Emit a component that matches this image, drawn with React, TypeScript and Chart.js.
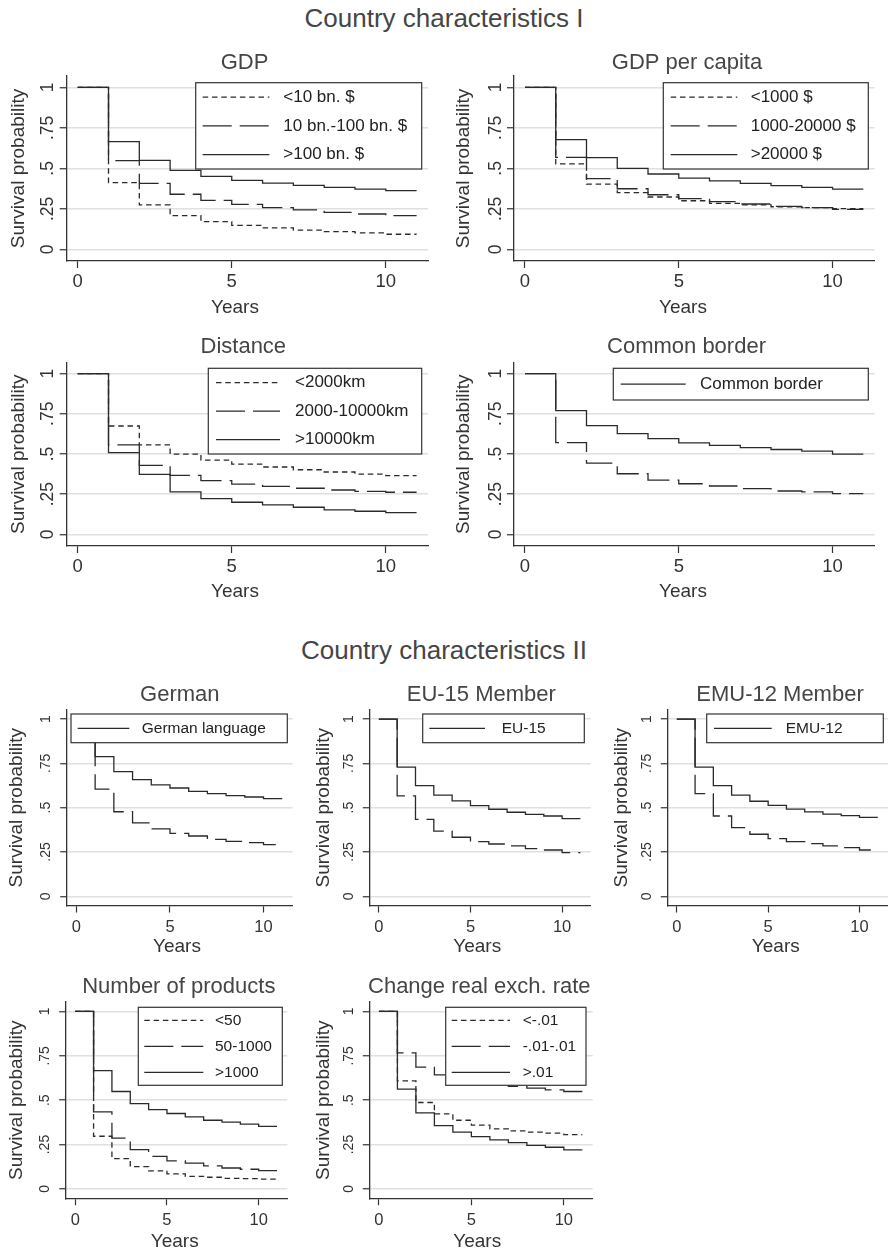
import React, { useEffect, useRef } from "react";
import { Chart, registerables } from "chart.js";

Chart.register(...registerables);

const FONT = '"Liberation Sans", Arial, Helvetica, sans-serif';
Chart.defaults.font.family = FONT;

// ---------- data ----------
const YEARS = [0, 1, 2, 3, 4, 5, 6, 7, 8, 9, 10, 11];
const X_TICKS = [0, 5, 10];
const Y_TICKS = [0, 0.25, 0.5, 0.75, 1];
const Y_TICK_LABELS = ["0", ".25", ".5", ".75", "1"];

// GDP
const GDP_LABELS = ["<10 bn. $", "10 bn.-100 bn. $", ">100 bn. $"];
const GDP_LOW = [1, 0.412, 0.274, 0.208, 0.171, 0.148, 0.132, 0.119, 0.109, 0.101, 0.093, 0.093];
const GDP_MID = [1, 0.547, 0.407, 0.34, 0.302, 0.278, 0.257, 0.243, 0.228, 0.218, 0.208, 0.208];
const GDP_HIGH = [1, 0.665, 0.549, 0.488, 0.451, 0.426, 0.409, 0.395, 0.383, 0.372, 0.362, 0.362];

// GDP per capita
const GDPPC_LABELS = ["<1000 $", "1000-20000 $", ">20000 $"];
const GDPPC_LOW = [1, 0.527, 0.403, 0.35, 0.323, 0.3, 0.284, 0.274, 0.263, 0.257, 0.251, 0.251];
const GDPPC_MID = [1, 0.568, 0.436, 0.374, 0.337, 0.313, 0.294, 0.28, 0.265, 0.257, 0.247, 0.247];
const GDPPC_HIGH = [1, 0.677, 0.566, 0.5, 0.465, 0.44, 0.422, 0.407, 0.393, 0.383, 0.372, 0.372];

// Distance
const DIST_LABELS = ["<2000km", "2000-10000km", ">10000km"];
const DIST_NEAR = [1, 0.674, 0.557, 0.499, 0.462, 0.437, 0.419, 0.402, 0.388, 0.375, 0.365, 0.365];
const DIST_MID = [1, 0.557, 0.429, 0.367, 0.334, 0.313, 0.299, 0.287, 0.276, 0.268, 0.262, 0.262];
const DIST_FAR = [1, 0.509, 0.373, 0.264, 0.223, 0.2, 0.184, 0.169, 0.153, 0.144, 0.136, 0.136];

// Common border
const BORDER_LABELS = ["Common border", "No common border"];
const BORDER_YES = [1, 0.769, 0.676, 0.627, 0.596, 0.569, 0.553, 0.54, 0.528, 0.518, 0.499, 0.499];
const BORDER_NO = [1, 0.571, 0.443, 0.377, 0.338, 0.315, 0.301, 0.285, 0.27, 0.264, 0.254, 0.254];

// German
const GERMAN_LABELS = ["German language", "Other language"];
const GERMAN_YES = [1, 0.788, 0.703, 0.658, 0.628, 0.611, 0.592, 0.579, 0.568, 0.56, 0.551, 0.551];
const GERMAN_NO = [1, 0.605, 0.477, 0.414, 0.38, 0.355, 0.34, 0.321, 0.31, 0.303, 0.291, 0.291];

// EU-15
const EU_LABELS = ["EU-15", "Non EU-15"];
const EU_YES = [1, 0.729, 0.624, 0.571, 0.538, 0.511, 0.491, 0.474, 0.462, 0.453, 0.438, 0.438];
const EU_NO = [1, 0.566, 0.434, 0.368, 0.333, 0.308, 0.295, 0.284, 0.269, 0.261, 0.246, 0.246];

// EMU-12
const EMU_LABELS = ["EMU-12", "Non EMU-12"];
const EMU_YES = [1, 0.729, 0.624, 0.571, 0.536, 0.513, 0.492, 0.476, 0.464, 0.455, 0.445, 0.445];
const EMU_NO = [1, 0.579, 0.453, 0.387, 0.35, 0.325, 0.308, 0.297, 0.284, 0.274, 0.261, 0.261];

// Number of products
const PROD_LABELS = ["<50", "50-1000", ">1000"];
const PROD_FEW = [1, 0.297, 0.171, 0.126, 0.102, 0.085, 0.071, 0.066, 0.06, 0.058, 0.055, 0.055];
const PROD_SOME = [1, 0.434, 0.286, 0.222, 0.184, 0.158, 0.145, 0.13, 0.118, 0.111, 0.103, 0.103];
const PROD_MANY = [1, 0.667, 0.549, 0.481, 0.447, 0.425, 0.406, 0.387, 0.376, 0.365, 0.353, 0.353];

// Change real exchange rate
const RER_LABELS = ["<-.01", "-.01-.01", ">.01"];
const RER_DOWN = [1, 0.609, 0.487, 0.423, 0.387, 0.359, 0.338, 0.327, 0.32, 0.314, 0.306, 0.306];
const RER_STABLE = [1, 0.767, 0.686, 0.643, 0.625, 0.605, 0.59, 0.578, 0.568, 0.558, 0.549, 0.549];
const RER_UP = [1, 0.562, 0.429, 0.357, 0.32, 0.295, 0.276, 0.261, 0.246, 0.235, 0.22, 0.22];

// ---------- styles ----------
const LINE = "#2a2a2a";
const AXIS = "#333333";
const GRID = "#e0e0e0";
const TEXT = "#333333";
const TITLE = "#454545";
const SHORT = [5.5, 3.8];
const LONG = [29, 8];
const SOLID: number[] = [];

type Series = { label: string; values: number[]; dash: number[]; inLegend: boolean };
type Legend = { x: number; y: number; w: number; h: number; font: number; sx: number; sl: number; tx: number };
type PanelCfg = {
  title: string;
  titleX: number;
  titleY: number;
  plot: { l: number; t: number; r: number; b: number };
  xMin: number;
  xMax: number;
  yMin: number;
  yMax: number;
  yTitleX: number;
  xTitleX: number;
  xTitleY: number;
  xTickFont: number;
  yTickFont: number;
  xTickPad: number;
  yLabelDist: number;
  tickLen: number;
  legend: Legend;
  series: Series[];
};

const TOP = { xMin: -0.357, xMax: 11.37, yMin: -0.072, yMax: 1.07, xTickFont: 18.5, yTickFont: 17.5, xTickPad: 3.2, yLabelDist: 18.2, tickLen: 7 };
const BOT = { xMin: -0.52, xMax: 11.56, yMin: -0.055, yMax: 1.055, xTickFont: 16.5, yTickFont: 14, xTickPad: 5.4, yLabelDist: 20.3, tickLen: 6.5 };

const three = (labels: string[], a: number[], b: number[], c: number[]): Series[] => [
  { label: labels[0], values: a, dash: SHORT, inLegend: true },
  { label: labels[1], values: b, dash: LONG, inLegend: true },
  { label: labels[2], values: c, dash: SOLID, inLegend: true },
];
const two = (labels: string[], yes: number[], no: number[]): Series[] => [
  { label: labels[1], values: no, dash: LONG, inLegend: false },
  { label: labels[0], values: yes, dash: SOLID, inLegend: true },
];

const PANELS: PanelCfg[] = [
  {
    ...TOP, title: "GDP", titleX: 244.5, titleY: 62.5,
    plot: { l: 66.7, t: 76, r: 428, b: 261 }, yTitleX: 18.5, xTitleX: 235, xTitleY: 307.5,
    legend: { x: 195.7, y: 82.7, w: 226, h: 86.3, font: 17, sx: 7, sl: 66.6, tx: 87.6 },
    series: three(GDP_LABELS, GDP_LOW, GDP_MID, GDP_HIGH),
  },
  {
    ...TOP, title: "GDP per capita", titleX: 687, titleY: 62.5,
    plot: { l: 514, t: 76, r: 874.7, b: 261 }, yTitleX: 464, xTitleX: 683, xTitleY: 307.5,
    legend: { x: 663.3, y: 82.7, w: 205, h: 86.3, font: 17, sx: 7.4, sl: 66.6, tx: 87.4 },
    series: three(GDPPC_LABELS, GDPPC_LOW, GDPPC_MID, GDPPC_HIGH),
  },
  {
    ...TOP, title: "Distance", titleX: 243.3, titleY: 346.5,
    plot: { l: 66.7, t: 362.3, r: 428, b: 546 }, yTitleX: 18.5, xTitleX: 235, xTitleY: 591.5,
    legend: { x: 208.3, y: 368.3, w: 213.4, h: 85.7, font: 17, sx: 7.7, sl: 64, tx: 86.7 },
    series: three(DIST_LABELS, DIST_NEAR, DIST_MID, DIST_FAR),
  },
  {
    ...TOP, title: "Common border", titleX: 686.5, titleY: 346.5,
    plot: { l: 514, t: 362.3, r: 874.7, b: 546 }, yTitleX: 464, xTitleX: 683, xTitleY: 591.5,
    legend: { x: 613.3, y: 368.3, w: 255, h: 31.7, font: 17, sx: 7.4, sl: 65, tx: 86.7 },
    series: two(BORDER_LABELS, BORDER_YES, BORDER_NO),
  },
  {
    ...BOT, title: "German", titleX: 179.8, titleY: 694.9,
    plot: { l: 66.7, t: 709.3, r: 292.7, b: 906 }, yTitleX: 16.7, xTitleX: 177, xTitleY: 946.9,
    legend: { x: 71, y: 714, w: 216.3, h: 28.7, font: 15.5, sx: 6.7, sl: 51.6, tx: 70.7 },
    series: two(GERMAN_LABELS, GERMAN_YES, GERMAN_NO),
  },
  {
    ...BOT, title: "EU-15 Member", titleX: 481.3, titleY: 694.9,
    plot: { l: 369.3, t: 709.3, r: 590.7, b: 906 }, yTitleX: 324, xTitleX: 477.2, xTitleY: 946.9,
    legend: { x: 422.7, y: 714, w: 161.6, h: 28.7, font: 15.5, sx: 6.6, sl: 55.7, tx: 79 },
    series: two(EU_LABELS, EU_YES, EU_NO),
  },
  {
    ...BOT, title: "EMU-12 Member", titleX: 780, titleY: 694.9,
    plot: { l: 667.3, t: 709.3, r: 888, b: 906 }, yTitleX: 621.7, xTitleX: 775.8, xTitleY: 946.9,
    legend: { x: 706.7, y: 714, w: 176.6, h: 28.7, font: 15.5, sx: 7.3, sl: 57.7, tx: 79 },
    series: two(EMU_LABELS, EMU_YES, EMU_NO),
  },
  {
    ...BOT, title: "Number of products", titleX: 178.8, titleY: 986.5,
    plot: { l: 65.7, t: 1001.7, r: 287.3, b: 1198.7 }, yTitleX: 16.7, xTitleX: 174.7, xTitleY: 1241.5,
    legend: { x: 138.3, y: 1007.3, w: 144, h: 78, font: 15.5, sx: 6, sl: 59, tx: 76.7 },
    series: three(PROD_LABELS, PROD_FEW, PROD_SOME, PROD_MANY),
  },
  {
    ...BOT, title: "Change real exch. rate", titleX: 479.3, titleY: 986.5,
    plot: { l: 369.3, t: 1001.7, r: 592.7, b: 1198.7 }, yTitleX: 324, xTitleX: 477.2, xTitleY: 1241.5,
    legend: { x: 445.7, y: 1007.3, w: 140.3, h: 78, font: 15.5, sx: 6, sl: 58.3, tx: 77 },
    series: three(RER_LABELS, RER_DOWN, RER_STABLE, RER_UP),
  },
];

const AXIS_TITLE_SIZE = 19;
const PANEL_TITLE_SIZE = 22;
const X_TITLE = "Years";
const Y_TITLE = "Survival probability";

const decorPlugin = {
  id: "stataDecor",
  afterDatasetsDraw(chart: any, _args: any, opts: any) {
    const { ctx } = chart;
    const { ox, oy, title, titleX, titleY, xTitleX, xTitleY, legend, items } = opts;
    ctx.save();
    // panel title
    ctx.font = `${PANEL_TITLE_SIZE}px ${FONT}`;
    ctx.fillStyle = TITLE;
    ctx.textAlign = "center";
    ctx.textBaseline = "middle";
    ctx.fillText(title, titleX - ox, titleY - oy);
    // x axis title
    ctx.font = `${AXIS_TITLE_SIZE}px ${FONT}`;
    ctx.fillStyle = TEXT;
    ctx.fillText(X_TITLE, xTitleX - ox, xTitleY - oy);
    // legend box
    const lx = legend.x - ox;
    const ly = legend.y - oy;
    ctx.fillStyle = "#ffffff";
    ctx.fillRect(lx, ly, legend.w, legend.h);
    ctx.strokeStyle = AXIS;
    ctx.lineWidth = 1.2;
    ctx.setLineDash([]);
    ctx.strokeRect(lx, ly, legend.w, legend.h);
    const n = items.length;
    items.forEach((it: any, i: number) => {
      const cyRow = ly + (legend.h * (i + 0.5)) / n;
      ctx.beginPath();
      ctx.setLineDash(it.dash);
      ctx.strokeStyle = LINE;
      ctx.lineWidth = 1.3;
      ctx.moveTo(lx + legend.sx, cyRow);
      ctx.lineTo(lx + legend.sx + legend.sl, cyRow);
      ctx.stroke();
      ctx.setLineDash([]);
      ctx.font = `${legend.font}px ${FONT}`;
      ctx.fillStyle = "#222222";
      ctx.textAlign = "left";
      ctx.textBaseline = "middle";
      ctx.fillText(it.label, lx + legend.tx, cyRow);
    });
    ctx.restore();
  },
};

function Panel({ cfg }: { cfg: PanelCfg }) {
  const ref = useRef<HTMLCanvasElement>(null);
  const cx = Math.round(cfg.plot.l - 62);
  const cy = Math.round(cfg.titleY - 22);
  const cw = Math.round(cfg.plot.r + 8 - cx);
  const ch = Math.round(cfg.xTitleY + 14 - cy);
  const lh = AXIS_TITLE_SIZE * 1.2;

  useEffect(() => {
    const canvas = ref.current;
    if (!canvas) return;
    const yTitlePad = cfg.yTitleX - cx - lh / 2;
    const yTickPad = cfg.yLabelDist - cfg.tickLen - (1.39 * cfg.yTickFont) / 2;
    const chart = new Chart(canvas, {
      type: "line",
      data: {
        datasets: cfg.series.map((s) => ({
          label: s.label,
          data: YEARS.map((t, i) => ({ x: t, y: s.values[i] })),
          borderColor: LINE,
          borderWidth: 1.3,
          borderDash: s.dash,
          stepped: true,
          pointRadius: 0,
          fill: false,
          tension: 0,
        })),
      },
      options: {
        responsive: false,
        animation: false,
        events: [],
        layout: {
          padding: { top: cfg.plot.t - cy, right: cx + cw - cfg.plot.r, left: 0, bottom: 0 },
        },
        plugins: {
          legend: { display: false },
          tooltip: { enabled: false },
          title: { display: false },
          stataDecor: {
            ox: cx,
            oy: cy,
            title: cfg.title,
            titleX: cfg.titleX,
            titleY: cfg.titleY,
            xTitleX: cfg.xTitleX,
            xTitleY: cfg.xTitleY,
            legend: cfg.legend,
            items: cfg.series.filter((s) => s.inLegend).map((s) => ({ label: s.label, dash: s.dash })),
          },
        } as any,
        scales: {
          x: {
            type: "linear",
            min: cfg.xMin,
            max: cfg.xMax,
            afterFit: (s: any) => {
              s.height = cy + ch - cfg.plot.b;
            },
            afterBuildTicks: (s: any) => {
              s.ticks = X_TICKS.map((v) => ({ value: v }));
            },
            ticks: {
              autoSkip: false,
              maxRotation: 0,
              minRotation: 0,
              padding: cfg.xTickPad,
              color: TEXT,
              font: { size: cfg.xTickFont },
              callback: (v: any) => String(v),
            },
            grid: {
              drawOnChartArea: false,
              drawTicks: true,
              tickLength: cfg.tickLen,
              tickColor: AXIS,
              tickWidth: 1.2,
              color: AXIS,
            },
            border: { display: true, color: AXIS, width: 1.3 },
            title: { display: false, text: X_TITLE },
          },
          y: {
            type: "linear",
            min: cfg.yMin,
            max: cfg.yMax,
            afterFit: (s: any) => {
              s.width = cfg.plot.l - cx;
            },
            afterBuildTicks: (s: any) => {
              s.ticks = Y_TICKS.map((v) => ({ value: v }));
            },
            ticks: {
              autoSkip: false,
              minRotation: 90,
              maxRotation: 90,
              crossAlign: "center",
              padding: yTickPad,
              color: TEXT,
              font: { size: cfg.yTickFont },
              callback: (_v: any, i: number) => Y_TICK_LABELS[i],
            },
            grid: {
              drawOnChartArea: true,
              drawTicks: true,
              tickLength: cfg.tickLen,
              color: GRID,
              lineWidth: 1.5,
              tickColor: AXIS,
              tickWidth: 1.2,
            },
            border: { display: true, color: AXIS, width: 1.3 },
            title: {
              display: true,
              text: Y_TITLE,
              color: TEXT,
              font: { size: AXIS_TITLE_SIZE },
              padding: { top: yTitlePad, bottom: 0 },
            },
          },
        },
      } as any,
      plugins: [decorPlugin],
    });
    return () => chart.destroy();
  }, []);

  return (
    <canvas
      ref={ref}
      width={cw}
      height={ch}
      style={{ position: "absolute", left: cx, top: cy, width: cw, height: ch, display: "block" }}
    />
  );
}

const SECTION_TITLES = ["Country characteristics I", "Country characteristics II"];
const SECTION_Y = [18, 650];

export default function App() {
  return (
    <div
      style={{
        position: "absolute",
        left: 0,
        top: 0,
        width: 888,
        height: 1252,
        overflow: "hidden",
        background: "#ffffff",
      }}
    >
      {SECTION_TITLES.map((t, i) => (
        <div
          key={t}
          style={{
            position: "absolute",
            left: 0,
            top: SECTION_Y[i] - 18,
            width: 888,
            height: 36,
            lineHeight: "36px",
            textAlign: "center",
            fontFamily: FONT,
            fontSize: 26,
            color: TITLE,
          }}
        >
          {t}
        </div>
      ))}
      {PANELS.map((p) => (
        <Panel key={p.title} cfg={p} />
      ))}
    </div>
  );
}
